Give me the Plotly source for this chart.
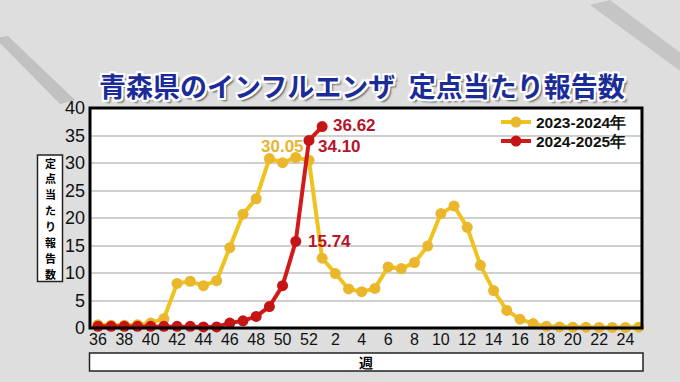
import plotly.graph_objects as go

weeks = [36, 37, 38, 39, 40, 41, 42, 43, 44, 45, 46, 47, 48, 49, 50, 51, 52,
         1, 2, 3, 4, 5, 6, 7, 8, 9, 10, 11, 12, 13, 14, 15, 16, 17, 18, 19, 20,
         21, 22, 23, 24, 25]
tick_weeks = [36, 38, 40, 42, 44, 46, 48, 50, 52, 2, 4, 6, 8, 10, 12, 14, 16, 18, 20, 22, 24]

season_2023 = [0.6, 0.5, 0.5, 0.6, 0.9, 1.7, 8.1, 8.5, 7.7, 8.6, 14.6, 20.7, 23.5, 30.8,
               30.05, 31.0, 30.5, 12.7, 9.9, 7.1, 6.6, 7.2, 11.1, 10.8, 11.9, 14.9, 20.8,
               22.2, 18.3, 11.4, 6.8, 3.2, 1.6, 0.8, 0.3, 0.2, 0.15, 0.15, 0.1, 0.1, 0.1, 0.15]
season_2024 = [0.3, 0.3, 0.3, 0.3, 0.3, 0.3, 0.3, 0.3, 0.2, 0.2, 0.9, 1.3, 2.1, 3.9, 7.7,
               15.74, 34.10, 36.62]

name_2023 = "2023-2024年"
name_2024 = "2024-2025年"
title_text = "青森県のインフルエンザ\u2002定点当たり報告数"
ylabel_text = "定点当たり報告数"
xlabel_text = "週"

YEL_LINE = "#F0C21E"
YEL_DOT = "#E9B62C"
RED_LINE = "#D11A1A"
RED_DOT = "#C41414"

W, H = 680, 382
ML, MR, MT, MB = 90, 38, 108, 54
PW, PH = W - ML - MR, H - MT - MB


def px_x(px):
    return (px - ML) / PW


def px_y(py):
    return (H - MB - py) / PH


xpos = list(range(len(weeks)))
tick_pos = [xpos[weeks.index(w, 0 if w >= 36 else 17)] for w in tick_weeks]

fig = go.Figure()
fig.add_trace(go.Scatter(
    x=xpos[:len(season_2023)], y=season_2023, name=name_2023, mode="lines+markers",
    line=dict(color=YEL_LINE, width=4), marker=dict(color=YEL_DOT, size=11),
    cliponaxis=False, legend="legend"))
fig.add_trace(go.Scatter(
    x=xpos[:len(season_2024)], y=season_2024, name=name_2024, mode="lines+markers",
    line=dict(color=RED_LINE, width=4), marker=dict(color=RED_DOT, size=11),
    cliponaxis=False, legend="legend2"))

num_font = "Liberation Sans, Arial, sans-serif"
jp_font = "Noto Sans CJK JP, sans-serif"

annotations = []
i = season_2023.index(30.05)
annotations.append(dict(x=xpos[i], y=season_2023[i], text="30.05", showarrow=False,
                        xanchor="center", yanchor="middle", yshift=16,
                        font=dict(family=num_font, size=17, color="#E6B530", weight="bold")))
for val, xs, ys in [(15.74, 10, 0), (34.10, 7, -6), (36.62, 9, 1)]:
    j = season_2024.index(val)
    annotations.append(dict(x=xpos[j], y=season_2024[j], text=f"{val:.2f}", showarrow=False,
                            xanchor="left", yanchor="middle", xshift=xs, yshift=ys,
                            font=dict(family=num_font, size=17, color="#B5152A", weight="bold")))

annotations.append(dict(xref="paper", yref="paper", x=px_x(362), y=px_y(85), text=title_text,
                        showarrow=False, xanchor="center", yanchor="middle",
                        font=dict(family=jp_font, size=27, color="#1B2C98", weight="bold",
                                  shadow="2px 2px 0 #fff, -2px -2px 0 #fff, 2px -2px 0 #fff, -2px 2px 0 #fff, 0 2px 0 #fff, 2px 0 0 #fff, 0 -2px 0 #fff, -2px 0 0 #fff, 3px 3px 2px #555")))

# vertical y-axis label, one character per annotation
y_first, y_step = 162.5, 15.9
for k, ch in enumerate(ylabel_text):
    annotations.append(dict(xref="paper", yref="paper", x=px_x(50), y=px_y(y_first + k * y_step),
                            text=ch, showarrow=False, xanchor="center", yanchor="middle",
                            font=dict(family=jp_font, size=11, color="black", weight="bold")))
annotations.append(dict(xref="paper", yref="paper", x=px_x(366), y=px_y(362), text=xlabel_text,
                        showarrow=False, xanchor="center", yanchor="middle",
                        font=dict(family=jp_font, size=14, color="black", weight="bold")))

shapes = [
    dict(type="path", xref="paper", yref="paper", layer="below",
         path=f"M {px_x(-5)} {px_y(38)} L {px_x(8)} {px_y(36)} L {px_x(75)} {px_y(100)} L {px_x(60)} {px_y(104)} Z",
         fillcolor="rgba(140,140,140,0.35)", line=dict(width=0)),
    dict(type="path", xref="paper", yref="paper", layer="below",
         path=f"M {px_x(590)} {px_y(5)} L {px_x(610)} {px_y(0)} L {px_x(690)} {px_y(60)} L {px_x(690)} {px_y(78)} Z",
         fillcolor="rgba(140,140,140,0.3)", line=dict(width=0)),
    dict(type="rect", xref="paper", yref="paper", x0=0, x1=1, y0=0, y1=1,
         line=dict(color="black", width=3), layer="above"),
    dict(type="rect", xref="paper", yref="paper", x0=px_x(37.5), x1=px_x(62.5),
         y0=px_y(281.5), y1=px_y(155), fillcolor="white", line=dict(color="#222", width=1.5),
         layer="below"),
    dict(type="rect", xref="paper", yref="paper", x0=px_x(89.5), x1=px_x(643),
         y0=px_y(371), y1=px_y(353), fillcolor="white", line=dict(color="#222", width=1.5),
         layer="below"),
]

legend_common = dict(xanchor="left", yanchor="middle", bgcolor="rgba(0,0,0,0)",
                     font=dict(family=num_font, size=15.5, color="#111", weight="bold"),
                     itemwidth=30, borderwidth=0)

fig.update_layout(
    width=W, height=H,
    margin=dict(l=ML, r=MR, t=MT, b=MB, pad=0),
    paper_bgcolor="#DEDEDE",
    plot_bgcolor="white",
    showlegend=True,
    legend=dict(x=px_x(496), y=px_y(122.5), **legend_common),
    legend2=dict(x=px_x(496), y=px_y(141.5), **legend_common),
    annotations=annotations,
    shapes=shapes,
    xaxis=dict(range=[-0.6, 41.25], tickmode="array", tickvals=tick_pos,
               ticktext=[str(w) for w in tick_weeks],
               showgrid=False, zeroline=False, showline=False, ticks="",
               tickfont=dict(family=num_font, size=16, color="#111")),
    yaxis=dict(range=[0, 40], dtick=5, showgrid=True, gridcolor="#CFCFCF", gridwidth=1.5,
               zeroline=False, showline=False, ticks="", ticklabelstandoff=4,
               tickfont=dict(family=num_font, size=18, color="#111")),
)

fig.write_html("out.html", config={"displayModeBar": False},
               post_script="document.body.style.margin='0px';")
